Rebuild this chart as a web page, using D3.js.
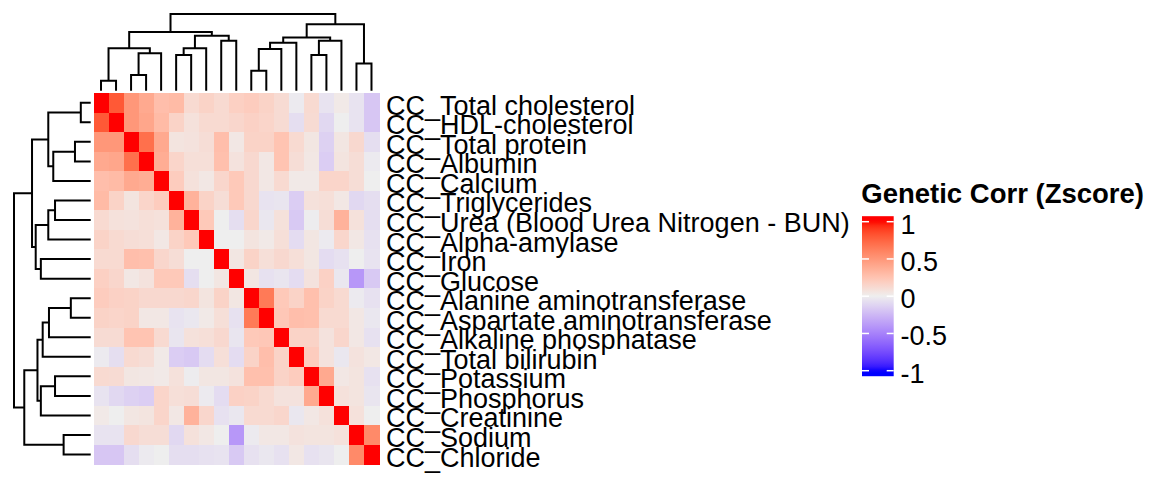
<!DOCTYPE html>
<html>
<head>
<meta charset="utf-8">
<script src="https://cdn.jsdelivr.net/npm/d3@7"></script>
<style>
  body { margin: 0; background: #fff; }
  text { font-family: "Liberation Sans", Arial, sans-serif; }
</style>
</head>
<body>
<div id="chart"></div>
<script>
// traits, already in clustered order (rows and columns share it)
const traits = [
  "CC_Total cholesterol", "CC_HDL-cholesterol", "CC_Total protein", "CC_Albumin",
  "CC_Calcium", "CC_Triglycerides", "CC_Urea (Blood Urea Nitrogen - BUN)", "CC_Alpha-amylase",
  "CC_Iron", "CC_Glucose", "CC_Alanine aminotransferase", "CC_Aspartate aminotransferase",
  "CC_Alkaline phosphatase", "CC_Total bilirubin", "CC_Potassium", "CC_Phosphorus",
  "CC_Creatinine", "CC_Sodium", "CC_Chloride"
];

// genetic correlation
const corr = [
  [1, 0.8, 0.5, 0.4, 0.28, 0.3, 0.12, 0.16, 0.12, 0.18, 0.2, 0.16, 0.11, -0.02, 0.12, -0.05, 0.03, -0.05, -0.18],
  [0.8, 1, 0.5, 0.42, 0.3, 0.16, 0.08, 0.12, 0.12, 0.14, 0.17, 0.15, 0.11, -0.07, 0.11, -0.1, 0, -0.05, -0.18],
  [0.5, 0.5, 1, 0.7, 0.4, 0.06, 0.07, 0.1, 0.28, 0.04, 0.16, 0.16, 0.25, 0.12, 0.05, -0.13, 0.05, 0.13, -0.07],
  [0.4, 0.42, 0.7, 1, 0.38, 0.15, 0.09, 0.09, 0.27, 0.07, 0.13, 0.04, 0.25, 0.1, 0.04, -0.15, 0.06, 0.1, -0.02],
  [0.28, 0.3, 0.4, 0.38, 1, 0.2, 0.08, 0.04, 0.14, 0.22, 0.13, 0.04, 0.12, 0.03, 0.03, 0.15, 0.15, 0.1, 0],
  [0.3, 0.16, 0.06, 0.15, 0.2, 1, 0.35, 0.16, 0.1, 0.22, 0.13, -0.05, -0.04, -0.15, 0.08, 0.09, 0.04, -0.1, -0.07],
  [0.12, 0.08, 0.07, 0.09, 0.08, 0.35, 1, 0.22, 0, -0.07, 0.14, -0.03, 0.08, -0.17, -0.01, 0.1, 0.35, 0.08, -0.07],
  [0.16, 0.12, 0.1, 0.09, 0.04, 0.16, 0.22, 1, 0, 0, 0.06, 0.03, 0.09, -0.08, 0.05, -0.02, 0.14, 0.04, -0.06],
  [0.12, 0.12, 0.28, 0.27, 0.14, 0.1, 0, 0, 1, 0.05, 0.16, 0.09, 0.13, 0.09, 0.05, -0.08, -0.06, 0, -0.05],
  [0.18, 0.14, 0.04, 0.07, 0.22, 0.22, -0.07, 0, 0.05, 1, 0.05, -0.06, -0.04, -0.08, 0.07, 0.17, -0.03, -0.4, -0.17],
  [0.2, 0.17, 0.16, 0.13, 0.13, 0.13, 0.14, 0.06, 0.16, 0.05, 1, 0.65, 0.22, 0.16, 0.27, 0.16, 0.12, -0.02, -0.06],
  [0.16, 0.15, 0.16, 0.04, 0.04, -0.05, -0.03, 0.03, 0.09, -0.06, 0.65, 1, 0.23, 0.28, 0.27, 0.12, 0.12, 0.04, -0.03],
  [0.11, 0.11, 0.25, 0.25, 0.12, -0.04, 0.08, 0.09, 0.13, -0.04, 0.22, 0.23, 1, 0.16, 0.16, 0.07, 0.14, 0.04, -0.06],
  [-0.02, -0.07, 0.12, 0.1, 0.03, -0.15, -0.17, -0.08, 0.09, -0.08, 0.16, 0.28, 0.16, 1, 0.2, 0.07, -0.03, 0.07, 0.04],
  [0.12, 0.11, 0.05, 0.04, 0.03, 0.08, -0.01, 0.05, 0.05, 0.07, 0.27, 0.27, 0.16, 0.2, 1, 0.4, 0.04, 0.06, -0.06],
  [-0.05, -0.1, -0.13, -0.15, 0.15, 0.09, 0.1, -0.02, -0.08, 0.17, 0.16, 0.12, 0.07, 0.07, 0.4, 1, 0.08, 0.06, -0.04],
  [0.03, 0, 0.05, 0.06, 0.15, 0.04, 0.35, 0.14, -0.06, -0.03, 0.12, 0.12, 0.14, -0.03, 0.04, 0.08, 1, 0.08, 0],
  [-0.05, -0.05, 0.13, 0.1, 0.1, -0.1, 0.08, 0.04, 0, -0.4, -0.02, 0.04, 0.04, 0.07, 0.06, 0.06, 0.08, 1, 0.57],
  [-0.18, -0.18, -0.07, -0.02, 0, -0.07, -0.07, -0.06, -0.05, -0.17, -0.06, -0.03, -0.06, 0.04, -0.06, -0.04, 0, 0.57, 1]
];

// hclust-style merges: negative = leaf (1-based), positive = earlier merge
const mergePairs = [
  [-1, -2], [-3, -4], [-11, -12], [-18, -19], [-6, -7], [-15, -16],
  [2, -5], [3, -13], [1, 7], [5, -8], [8, -14], [-9, -10],
  [6, -17], [11, 13], [10, 12], [9, 15], [14, 4], [16, 17]
];
const mergeHeights = [
  0.129, 0.205, 0.259, 0.353, 0.465, 0.465,
  0.488, 0.544, 0.553, 0.553, 0.626, 0.650,
  0.650, 0.694, 0.717, 0.765, 0.866, 1.0
];

const legendTicks = [1, 0.5, 0, -0.5, -1];
const legendLabels = ["1", "0.5", "0", "-0.5", "-1"];
const legendTitle = "Genetic Corr (Zscore)";

const width = 1152, height = 480;
const n = traits.length;

const svg = d3.select("#chart").append("svg")
  .attr("width", width)
  .attr("height", height);

const x = d3.scaleBand().domain(d3.range(n)).range([93.5, 379]);
const y = d3.scaleBand().domain(d3.range(n)).range([93, 464.3]);

const color = d3.scaleLinear()
  .domain([-1, 0, 1])
  .range(["#0000FF", "#EEEEEE", "#FF0000"])
  .interpolate(d3.interpolateLab)
  .clamp(true);

// cells
const cells = [];
corr.forEach((row, i) => row.forEach((v, j) => cells.push({i, j, v})));

svg.append("g")
  .attr("shape-rendering", "crispEdges")
  .selectAll("rect")
  .data(cells)
  .join("rect")
    .attr("x", d => x(d.j))
    .attr("y", d => y(d.i))
    .attr("width", x.bandwidth() + 0.5)
    .attr("height", y.bandwidth() + 0.5)
    .attr("fill", d => color(d.v));

// dendrogram geometry
const nodePos = [], nodeH = [];
const links = [];
mergePairs.forEach(([a, b], k) => {
  const get = v => v < 0 ? {p: -v - 1, h: 0} : {p: nodePos[v - 1], h: nodeH[v - 1]};
  const A = get(a), B = get(b);
  nodePos.push((A.p + B.p) / 2);
  nodeH.push(mergeHeights[k]);
  links.push({a: A, b: B, h: mergeHeights[k]});
});

const dh = d3.scaleLinear().domain([0, 1]).range([90.7, 14]);
const colPos = d3.scaleLinear().domain([0, n - 1]).range([x(0) + x.bandwidth() / 2, x(n - 1) + x.bandwidth() / 2]);
const rowPos = d3.scaleLinear().domain([0, n - 1]).range([y(0) + y.bandwidth() / 2, y(n - 1) + y.bandwidth() / 2]);

svg.append("g")
  .attr("fill", "none").attr("stroke", "#000").attr("stroke-width", 2)
  .selectAll("path")
  .data(links)
  .join("path")
    .attr("d", d => `M${colPos(d.a.p)},${dh(d.a.h)}V${dh(d.h)}H${colPos(d.b.p)}V${dh(d.b.h)}`);

svg.append("g")
  .attr("fill", "none").attr("stroke", "#000").attr("stroke-width", 2)
  .selectAll("path")
  .data(links)
  .join("path")
    .attr("d", d => `M${dh(d.a.h)},${rowPos(d.a.p)}H${dh(d.h)}V${rowPos(d.b.p)}H${dh(d.b.h)}`);

// row labels
svg.append("g")
  .selectAll("text")
  .data(traits)
  .join("text")
    .attr("x", 386)
    .attr("y", (d, i) => y(i) + y.bandwidth() / 2)
    .attr("dy", 12)
    .attr("font-size", 27)
    .attr("fill", "#000")
    .text(d => d);

// legend
const legY = d3.scaleLinear().domain([1, -1]).range([221.7, 370.7]);
const barX = 862, barW = 31.7, ext = 1.074;

const grad = svg.append("defs").append("linearGradient")
  .attr("id", "legGrad")
  .attr("x1", 0).attr("x2", 0).attr("y1", 0).attr("y2", 1);
grad.selectAll("stop")
  .data(d3.range(0, 1.0001, 0.02))
  .join("stop")
    .attr("offset", d => d)
    .attr("stop-color", d => color(ext - d * 2 * ext));

svg.append("rect")
  .attr("x", barX)
  .attr("y", legY(ext))
  .attr("width", barW)
  .attr("height", legY(-ext) - legY(ext))
  .attr("fill", "url(#legGrad)");

const tickG = svg.append("g").attr("stroke", "#fff").attr("stroke-width", 1.5);
legendTicks.forEach(t => {
  tickG.append("line").attr("x1", barX).attr("x2", barX + 7).attr("y1", legY(t)).attr("y2", legY(t));
  tickG.append("line").attr("x1", barX + barW - 7).attr("x2", barX + barW).attr("y1", legY(t)).attr("y2", legY(t));
});

svg.append("g")
  .selectAll("text")
  .data(legendTicks)
  .join("text")
    .attr("x", 900.5)
    .attr("y", d => legY(d))
    .attr("dy", 12)
    .attr("font-size", 27)
    .text((d, i) => legendLabels[i]);

svg.append("text")
  .attr("x", 861.3)
  .attr("y", 203)
  .attr("font-size", 27.5)
  .attr("font-weight", "bold")
  .text(legendTitle);
</script>
</body>
</html>
